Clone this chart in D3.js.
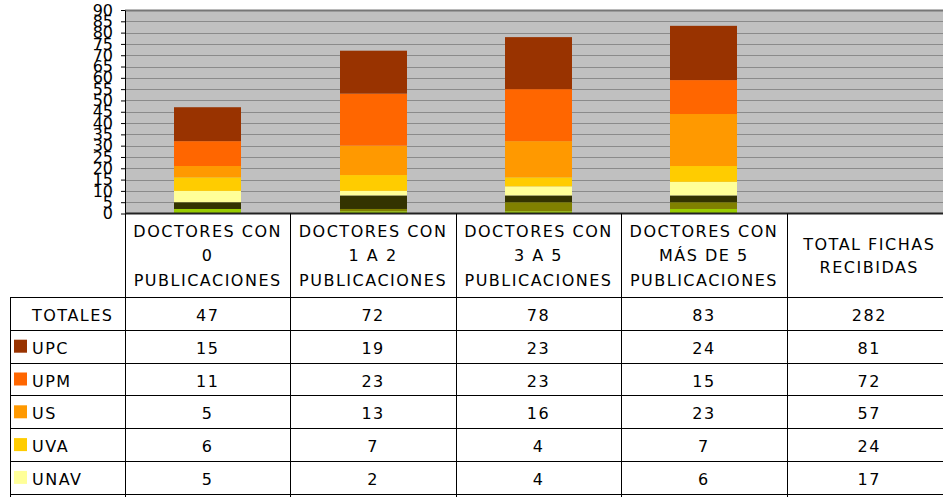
<!DOCTYPE html>
<html>
<head>
<meta charset="utf-8">
<script src="https://cdn.jsdelivr.net/npm/d3@7"></script>
<style>
    body { margin: 0; background: #fff; }
    svg { display: block; }
    text { font-family: "DejaVu Sans", Verdana, sans-serif; fill: #000; }
</style>
</head>
<body>
<div class="chart"></div>
<script>
// Data
const categories = ['c0', 'c12', 'c35', 'c5p', 'total'];
const headerLines = [
    ['DOCTORES CON', '0', 'PUBLICACIONES'],
    ['DOCTORES CON', '1 A 2', 'PUBLICACIONES'],
    ['DOCTORES CON', '3 A 5', 'PUBLICACIONES'],
    ['DOCTORES CON', 'MÁS DE 5', 'PUBLICACIONES'],
    ['TOTAL FICHAS', 'RECIBIDAS']
];
const totales = [47, 72, 78, 83, 282];
const upc = [15, 19, 23, 24, 81];
const upm = [11, 23, 23, 15, 72];
const us = [5, 13, 16, 23, 57];
const uva = [6, 7, 4, 7, 24];
const unav = [5, 2, 4, 6, 17];
// series below UNAV (rows of the table not visible in the picture)
const serie6 = [3, 6, 3, 3];
const serie7 = [0, 1, 4, 3];
const serie8 = [2, 1, 1, 2];
const yTicks = d3.range(0, 91, 5);

const seriesNames = ['S8', 'S7', 'S6', 'UNAV', 'UVA', 'US', 'UPM', 'UPC'];
const seriesValues = [serie8, serie7, serie6, unav, uva, us, upm, upc];
const seriesColors = ['#99cc00', '#808000', '#333300', '#ffff99', '#ffcc00', '#ff9900', '#ff6600', '#993300'];

const tableRows = [
    { label: 'TOTALES', values: totales, color: null },
    { label: 'UPC', values: upc, color: '#993300' },
    { label: 'UPM', values: upm, color: '#ff6600' },
    { label: 'US', values: us, color: '#ff9900' },
    { label: 'UVA', values: uva, color: '#ffcc00' },
    { label: 'UNAV', values: unav, color: '#ffff99' },
    { label: '', values: [], color: null }
];

// Dimensions
const dimensions = {
    width: 943,
    height: 497,
    plotLeft: 125,
    plotRight: 952,
    plotTop: 10,
    plotBottom: 213.5,
    headerBottom: 297,
    rowHeight: 32.8,
    tableLeft: 10
};

const svg = d3.select('.chart')
    .append('svg')
    .attr('width', dimensions.width)
    .attr('height', dimensions.height);

// Scales
const xCol = d3.scaleBand()
    .domain(categories)
    .range([dimensions.plotLeft, dimensions.plotRight]);

const xBar = d3.scaleBand()
    .domain(categories)
    .range([dimensions.plotLeft, dimensions.plotRight])
    .paddingInner(0.595)
    .paddingOuter(0.2975);

const yScale = d3.scaleLinear()
    .domain([0, 90])
    .range([dimensions.plotBottom, dimensions.plotTop]);

const rowScale = d3.scaleLinear()
    .domain([0, 1])
    .range([dimensions.headerBottom, dimensions.headerBottom + dimensions.rowHeight]);

const colorScale = d3.scaleOrdinal()
    .domain(seriesNames)
    .range(seriesColors);

// Plot background + grid
svg.append('rect')
    .attr('x', dimensions.plotLeft)
    .attr('y', yScale(90))
    .attr('width', dimensions.plotRight - dimensions.plotLeft)
    .attr('height', yScale(0) - yScale(90))
    .attr('fill', '#c0c0c0');

svg.append('g')
    .selectAll('line')
    .data(yTicks.filter(d => d > 0))
    .join('line')
    .attr('x1', dimensions.plotLeft)
    .attr('x2', dimensions.plotRight)
    .attr('y1', d => Math.round(yScale(d)) + 0.5)
    .attr('y2', d => Math.round(yScale(d)) + 0.5)
    .attr('stroke', d => d === 90 ? '#777' : '#8a8a8a')
    .attr('stroke-width', d => d === 90 ? 2 : 1);

// Stacked bars
const barData = categories.slice(0, 4).map((c, i) => {
    const row = { cat: c };
    seriesNames.forEach((s, k) => row[s] = seriesValues[k][i]);
    return row;
});
const stacked = d3.stack().keys(seriesNames)(barData);

svg.append('g')
    .selectAll('g')
    .data(stacked)
    .join('g')
    .attr('fill', d => colorScale(d.key))
    .selectAll('rect')
    .data(d => d)
    .join('rect')
    .attr('x', d => Math.round(xBar(d.data.cat)))
    .attr('y', d => yScale(d[1]))
    .attr('width', Math.round(xBar.bandwidth()))
    .attr('height', d => yScale(d[0]) - yScale(d[1]));

// Y axis
const yAxis = d3.axisLeft(yScale)
    .tickValues(yTicks)
    .tickSize(4)
    .tickPadding(8)
    .tickSizeOuter(0);

const yAxisGroup = svg.append('g')
    .attr('transform', `translate(${dimensions.plotLeft}, 0)`)
    .call(yAxis);
yAxisGroup.select('.domain').attr('stroke', '#000');
yAxisGroup.selectAll('.tick line').attr('stroke', '#000');
yAxisGroup.selectAll('.tick text')
    .attr('font-family', '"DejaVu Sans", Verdana, sans-serif')
    .attr('font-size', 16)
    .attr('fill', '#000');

// X axis line
svg.append('line')
    .attr('x1', dimensions.plotLeft)
    .attr('x2', dimensions.plotRight)
    .attr('y1', yScale(0))
    .attr('y2', yScale(0))
    .attr('stroke', '#222')
    .attr('stroke-width', 2);

// Table
const table = svg.append('g');
const tableBottom = dimensions.height + 5;

// vertical column lines
table.selectAll('line.col')
    .data(categories)
    .join('line')
    .attr('class', 'col')
    .attr('x1', d => Math.round(xCol(d)) + 0.5)
    .attr('x2', d => Math.round(xCol(d)) + 0.5)
    .attr('y1', yScale(0))
    .attr('y2', tableBottom)
    .attr('stroke', '#000');

table.append('line')
    .attr('x1', dimensions.tableLeft + 0.5)
    .attr('x2', dimensions.tableLeft + 0.5)
    .attr('y1', dimensions.headerBottom)
    .attr('y2', tableBottom)
    .attr('stroke', '#000');

// horizontal row lines
table.selectAll('line.row')
    .data(d3.range(tableRows.length))
    .join('line')
    .attr('class', 'row')
    .attr('x1', dimensions.tableLeft)
    .attr('x2', dimensions.plotRight)
    .attr('y1', d => Math.round(rowScale(d)) + 0.5)
    .attr('y2', d => Math.round(rowScale(d)) + 0.5)
    .attr('stroke', '#000');

// header text
const headerGroup = table.selectAll('text.header')
    .data(categories)
    .join('text')
    .attr('class', 'header')
    .attr('text-anchor', 'middle')
    .attr('font-size', 16)
    .attr('letter-spacing', 1.5);

headerGroup.each(function(d, i) {
    const lines = headerLines[i];
    const cx = xCol(d) + xCol.bandwidth() / 2;
    const lineGap = lines.length === 3 ? 24.7 : 23.5;
    const mid = (yScale(0) + dimensions.headerBottom) / 2 + 6;
    const first = mid - (lines.length - 1) * lineGap / 2;
    d3.select(this).selectAll('tspan')
        .data(lines)
        .join('tspan')
        .attr('x', cx)
        .attr('y', (l, k) => first + k * lineGap)
        .text(l => l);
});

// rows
const rowGroups = table.selectAll('g.trow')
    .data(tableRows)
    .join('g')
    .attr('class', 'trow')
    .attr('transform', (d, i) => `translate(0, ${rowScale(i)})`);

rowGroups.filter(d => d.color)
    .append('rect')
    .attr('x', 14)
    .attr('y', dimensions.rowHeight / 2 - 6.5)
    .attr('width', 13)
    .attr('height', 13)
    .attr('fill', d => d.color);

rowGroups.append('text')
    .attr('x', 32)
    .attr('y', 24)
    .attr('font-size', 16)
    .attr('letter-spacing', 1.5)
    .text(d => d.label);

rowGroups.selectAll('text.val')
    .data(d => d.values)
    .join('text')
    .attr('class', 'val')
    .attr('x', (v, i) => xCol(categories[i]) + xCol.bandwidth() / 2)
    .attr('y', 24)
    .attr('text-anchor', 'middle')
    .attr('font-size', 16)
    .attr('letter-spacing', 1.5)
    .text(v => v);
</script>
</body>
</html>
